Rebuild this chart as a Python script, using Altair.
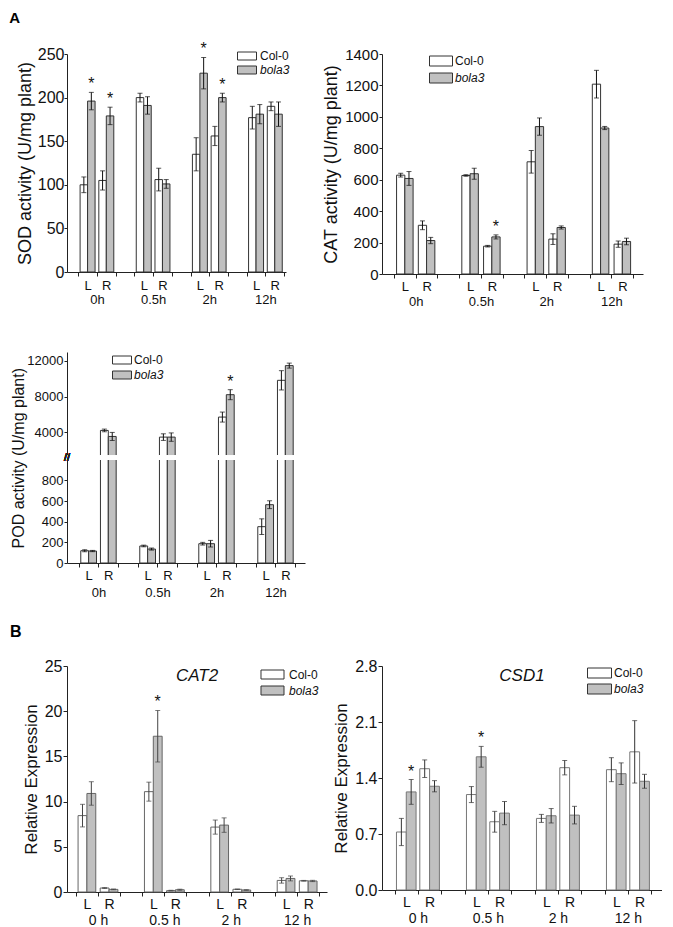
import math
import altair as alt
import pandas as pd

GROUPS_A = ["0h", "0.5h", "2h", "12h"]
GROUPS_B = ["0 h", "0.5 h", "2 h", "12 h"]
SIDES = ["L", "R"]
GENOTYPES = ["Col-0", "bola3"]
FILLS = ["#ffffff", "#c0c0c0"]

# order of values: 0h-L, 0h-R, 0.5h-L, 0.5h-R, 2h-L, 2h-R, 12h-L, 12h-R
SOD_COL = [100, 105, 200, 106, 135, 156, 177, 190]
SOD_COL_ERR = [9, 11, 5, 13, 19, 11, 13, 5]
SOD_BOLA = [196, 179, 191, 101, 228, 200, 181, 181]
SOD_BOLA_ERR = [10, 10, 10, 5, 18, 5, 11, 14]
SOD_SIG = [1, 1, 0, 0, 1, 1, 0, 0]

CAT_COL = [629, 310, 627, 177, 714, 222, 1208, 190]
CAT_COL_ERR = [12, 28, 5, 5, 72, 34, 88, 20]
CAT_BOLA = [608, 213, 638, 236, 938, 296, 929, 207]
CAT_BOLA_ERR = [44, 20, 35, 13, 55, 10, 10, 21]
CAT_SIG = [0, 0, 0, 1, 0, 0, 0, 0]

POD_COL = [119, 4224, 165, 3477, 187, 5720, 352, 9832]
POD_COL_ERR = [10, 150, 8, 370, 13, 560, 76, 1080]
POD_BOLA = [116, 3551, 135, 3477, 187, 8224, 565, 11477]
POD_BOLA_ERR = [6, 450, 10, 470, 32, 560, 38, 280]
POD_SIG = [0, 0, 0, 0, 0, 1, 0, 0]
# broken POD axis: lower part 0-1000, upper part 1400-13000 (compressed)
POD_LOW_MAX = 1000
POD_HIGH_MIN = 1400
POD_HIGH_MAX = 13000
POD_GAP = 40
POD_K = 0.0866

CAT2_COL = [8.45, 0.44, 11.1, 0.15, 7.18, 0.30, 1.28, 1.24]
CAT2_COL_ERR = [1.25, 0.05, 1.05, 0.04, 0.78, 0.03, 0.30, 0.04]
CAT2_BOLA = [10.9, 0.29, 17.23, 0.25, 7.40, 0.22, 1.50, 1.22]
CAT2_BOLA_ERR = [1.30, 0.04, 2.85, 0.06, 0.80, 0.03, 0.27, 0.07]
CAT2_SIG = [0, 0, 1, 0, 0, 0, 0, 0]

CSD1_COL = [0.725, 1.516, 1.193, 0.853, 0.895, 1.529, 1.504, 1.727]
CSD1_COL_ERR = [0.17, 0.11, 0.10, 0.13, 0.05, 0.09, 0.15, 0.39]
CSD1_BOLA = [1.226, 1.297, 1.665, 0.961, 0.928, 0.936, 1.454, 1.359]
CSD1_BOLA_ERR = [0.155, 0.07, 0.13, 0.145, 0.09, 0.11, 0.135, 0.087]
CSD1_SIG = [1, 0, 1, 0, 0, 0, 0, 0]

NARROW = "Liberation Sans Narrow, Liberation Sans, Arial, sans-serif"
SANS = "Liberation Sans, Arial, sans-serif"


def panel_df(col, col_err, bola, bola_err, sig, bar_w, ymap=lambda v: v):
    recs = []
    for i in range(len(col)):
        g, s = divmod(i, 2)
        pos = 3 * g + s
        for k, (v, e) in enumerate(((col[i], col_err[i]), (bola[i], bola_err[i]))):
            x1 = pos - bar_w if k == 0 else pos
            recs.append(dict(geno=GENOTYPES[k], x1=x1, x2=x1 + bar_w,
                             xc=x1 + bar_w / 2, v=ymap(v), lo=ymap(v - e),
                             hi=ymap(v + e), sig=(sig[i] if k == 1 else 0)))
    return pd.DataFrame(recs)


def pod_map(v):
    if v <= POD_LOW_MAX:
        return v
    return POD_LOW_MAX + POD_GAP + (v - POD_HIGH_MIN) * POD_K


def x_axis(groups, font, size, line_h, pad, tick=4):
    vals = [3 * g + d for g in range(len(groups)) for d in (-0.5, 0, 0.5, 1, 1.5)]
    r = "(datum.value - 3*floor((datum.value + 0.5)/3))"
    gi = "floor((datum.value + 0.5)/3)"
    garr = "[" + ",".join("'%s'" % t for t in groups) + "]"
    expr = (f"{r} == 0 ? '{SIDES[0]}' : ({r} == 1 ? '{SIDES[1]}' : "
            f"({r} == 0.5 ? [' ', {garr}[{gi}]] : ''))")
    return alt.Axis(values=vals, labelExpr=expr, title=None, grid=False,
                    labelFont=font, labelFontSize=size, labelLineHeight=line_h,
                    labelPadding=pad, tickSize=tick, labelOverlap=False,
                    labelFlush=False, labelBound=False, labelAngle=0,
                    tickOpacity={"condition": {"test": f"{r} == 0 || {r} == 1", "value": 0},
                                 "value": 1})


def y_axis(vals, font, size, title=None, tfs=16, fmt="d", tpad=4, title_x=None,
           title_y=None, tick=4, lpad=1, label_expr=None):
    kw = dict(values=vals, grid=False, labelFont=font, labelFontSize=size,
              tickSize=tick, labelPadding=lpad, titleFont=SANS, titleFontSize=tfs,
              titleFontWeight="normal", titlePadding=tpad, format=fmt,
              labelOverlap=False, labelFlush=False)
    kw["title"] = title if title is not None else None
    if title_x is not None:
        kw["titleX"] = title_x
    if title_y is not None:
        kw["titleY"] = title_y
    if label_expr is not None:
        kw["labelExpr"] = label_expr
    return alt.Axis(**kw)


def legend(box_x, box_y, box_w, box_h, text_x, row_gap, font, size):
    r = box_w / box_h
    cell = math.ceil(box_h + 1)
    entry_h = max(cell, size)
    lx = box_x + box_w / 2 - cell / 2
    return alt.Legend(
        orient="none", title=None, direction="vertical",
        legendX=lx, legendY=box_y + box_h / 2 - entry_h / 2,
        symbolType=f"M-{r:.3f},-1H{r:.3f}V1H-{r:.3f}Z",
        symbolSize=box_h ** 2, symbolStrokeColor="#333", symbolStrokeWidth=1,
        labelFont=font, labelFontSize=size, labelColor="#111",
        labelOffset=text_x - (lx + cell), rowPadding=row_gap - entry_h, padding=0,
        labelFontStyle=alt.ExprRef(expr=f"datum.label == '{GENOTYPES[1]}' ? 'italic' : 'normal'"),
    )


def panel(df, xdom, ydom, width, height, xaxis, yaxis, leg, bar_stroke, err_color,
          title=None, breaks=None):
    xs = alt.Scale(domain=xdom, nice=False, zero=False)
    ys = alt.Scale(domain=ydom, nice=False, zero=False)

    def X(f):
        return alt.X(f"{f}:Q", scale=xs, axis=xaxis)

    def Y(f):
        return alt.Y(f"{f}:Q", scale=ys, axis=yaxis)

    base = alt.Chart(df)
    bars = base.mark_bar(stroke=bar_stroke, strokeWidth=1).encode(
        x=X("x1"), x2="x2", y=Y("v"), y2=alt.datum(0),
        fill=alt.Fill("geno:N", scale=alt.Scale(domain=GENOTYPES, range=FILLS),
                      legend=leg),
    )
    rules = base.mark_rule(color=err_color, strokeWidth=1).encode(
        x=X("xc"), y=Y("lo"), y2="hi")
    cap_hi = base.mark_tick(orient="horizontal", size=5, thickness=1,
                            color=err_color).encode(x=X("xc"), y=Y("hi"))
    cap_lo = base.mark_tick(orient="horizontal", size=5, thickness=1,
                            color=err_color).encode(x=X("xc"), y=Y("lo"))
    layers = [bars, rules, cap_hi, cap_lo]
    if breaks is not None:
        b0, b1 = breaks
        band = alt.Chart(df).mark_rect(color="white").encode(
            x=alt.XDatum(datum=xdom[0] - 0.15, type="quantitative", scale=xs, axis=xaxis),
            x2=alt.datum(xdom[1]),
            y=alt.YDatum(datum=b0, type="quantitative", scale=ys, axis=yaxis),
            y2=alt.datum(b1))
        brk = alt.Chart(df).mark_text(text="//", fontSize=11, font=SANS,
                                      color="#222", baseline="middle").encode(
            x=alt.XDatum(datum=xdom[0], type="quantitative", scale=xs, axis=xaxis),
            y=alt.YDatum(datum=(b0 + b1) / 2, type="quantitative", scale=ys, axis=yaxis))
        layers += [band, brk]
    if max(df["sig"]) > 0:
        stars = base.transform_filter("datum.sig == 1").mark_text(
            text="*", baseline="alphabetic", dy=-3, fontSize=16, font=SANS,
            color="#111").encode(x=X("xc"), y=Y("hi"))
        layers.append(stars)
    ch = alt.layer(*layers).properties(width=width, height=height)
    if title is not None:
        ch = ch.properties(title=title)
    return ch


# ---------- A panels ----------
sod = panel(
    panel_df(SOD_COL, SOD_COL_ERR, SOD_BOLA, SOD_BOLA_ERR, SOD_SIG, 0.4),
    [-1.1, 10.6], [0, 250], 219, 218,
    x_axis(GROUPS_A, NARROW, 13, 14, 3),
    y_axis(list(range(0, 251, 50)), NARROW, 16, "SOD activity (U/mg plant)", 18,
           tpad=3, tick=3, lpad=0),
    legend(169, -2, 19, 8, 190, 14, NARROW, 12), "#333", "#111",
    title=alt.TitleParams("A", font=SANS, fontSize=15, fontWeight="bold", anchor="start",
                          frame="bounds", dx=-7, offset=0, baseline="bottom",
                          color="#000"))

cat = panel(
    panel_df(CAT_COL, CAT_COL_ERR, CAT_BOLA, CAT_BOLA_ERR, CAT_SIG, 0.38),
    [-1.05, 10.95], [0, 1400], 261, 220,
    x_axis(GROUPS_A, NARROW, 13, 15, 2),
    y_axis(list(range(0, 1401, 200)), SANS, 15, "CAT activity (U/mg plant)", 18,
           tick=3, lpad=1),
    legend(47, 2, 23, 10, 72, 15, SANS, 12), "#333", "#111")

POD_H = 211
pod_top = pod_map(POD_HIGH_MAX)
pod_vals = [0, 200, 400, 600, 800] + [pod_map(v) for v in (4000, 8000, 12000)]
pod_expr = (f"datum.value <= {POD_LOW_MAX} ? format(datum.value, 'd') : "
            f"format(round((datum.value - {POD_LOW_MAX + POD_GAP}) / {POD_K} + {POD_HIGH_MIN}), 'd')")
pod_title_y = POD_H - (POD_LOW_MAX + POD_GAP / 2) / pod_top * POD_H
pod = panel(
    panel_df(POD_COL, POD_COL_ERR, POD_BOLA, POD_BOLA_ERR, POD_SIG, 0.4, ymap=pod_map),
    [-1.1, 11.0], [0, pod_top], 238, POD_H,
    x_axis(GROUPS_A, NARROW, 13, 17, 2),
    y_axis(pod_vals, SANS, 13, "POD activity (U/mg plant)", 16, tick=3, lpad=1,
           title_x=-41, title_y=pod_title_y, label_expr=pod_expr),
    legend(44, 4, 19, 8, 64, 15, NARROW, 12), "#333", "#111",
    breaks=(POD_LOW_MAX, POD_LOW_MAX + POD_GAP),
    title=alt.TitleParams("B", font=SANS, fontSize=16, fontWeight="bold", anchor="start",
                          orient="bottom", frame="bounds", offset=25, baseline="top",
                          color="#000"))

spacer = alt.Chart(pd.DataFrame({"s": [0]})).mark_point(opacity=0).encode(
    x=alt.X("s:Q", axis=None), y=alt.Y("s:Q", axis=None)).properties(width=10, height=236)

# ---------- B panels ----------
cat2 = panel(
    panel_df(CAT2_COL, CAT2_COL_ERR, CAT2_BOLA, CAT2_BOLA_ERR, CAT2_SIG, 0.4),
    [-0.9, 10.85], [0, 25], 260, 226,
    x_axis(GROUPS_B, SANS, 14, 16, 1),
    y_axis(list(range(0, 26, 5)), SANS, 16, "Relative Expression", 17),
    legend(193, 4, 23, 9, 220, 14, NARROW, 12), "#666", "#444",
    title=alt.TitleParams("CAT2", font=SANS, fontSize=17, fontStyle="italic",
                          fontWeight="normal", anchor="middle", frame="group",
                          baseline="bottom", offset=-44, color="#111"))

csd1 = panel(
    panel_df(CSD1_COL, CSD1_COL_ERR, CSD1_BOLA, CSD1_BOLA_ERR, CSD1_SIG, 0.42),
    [-1.04, 10.96], [0, 2.8], 280, 224,
    x_axis(GROUPS_B, SANS, 14, 16, 1),
    y_axis([0, 0.7, 1.4, 2.1, 2.8], SANS, 16, "Relative Expression", 17, fmt=".1f"),
    legend(205, 2, 24, 10, 231, 14, NARROW, 12), "#777", "#333",
    title=alt.TitleParams("CSD1", font=SANS, fontSize=17, fontStyle="italic",
                          fontWeight="normal", anchor="middle", frame="group",
                          baseline="bottom", offset=-44, color="#111"))

chart = alt.concat(
    sod, cat, pod, spacer, cat2, csd1,
    columns=2, spacing={"row": 78, "column": 55}, bounds="flush", align="each",
).resolve_scale(fill="independent").properties(
    padding={"left": 1, "top": 3, "right": 0, "bottom": 0}
).configure_view(stroke=None).configure_axis(
    domainColor="#222", tickColor="#222", labelColor="#111", titleColor="#111"
)

chart.save("out.html", embed_options={"renderer": "svg", "actions": False})
